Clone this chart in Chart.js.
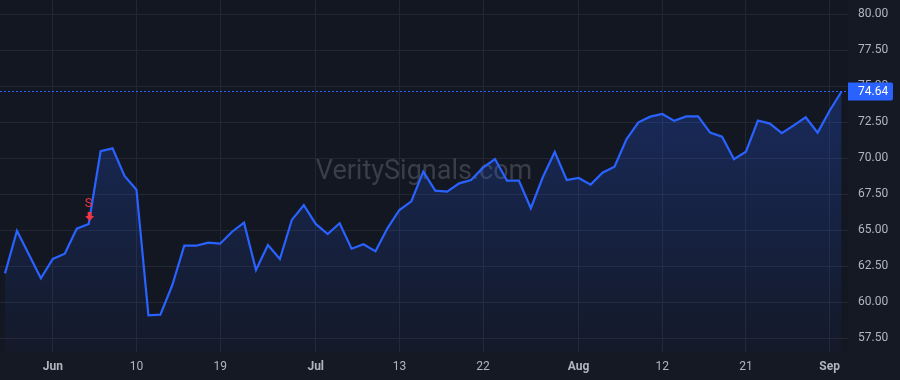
<!DOCTYPE html>
<html>
<head>
<meta charset="utf-8">
<script src="https://cdn.jsdelivr.net/npm/chart.js@4.4.1/dist/chart.umd.min.js"></script>
<style>
  html, body { margin: 0; padding: 0; background: #151924; }
  #chart { display: block; }
</style>
</head>
<body>
<canvas id="chart" width="900" height="380"></canvas>
<script>
// Daily closes
const dates = [
    "2024-05-27", "2024-05-28", "2024-05-29", "2024-05-31", "2024-06-03", "2024-06-04",
    "2024-06-05", "2024-06-06", "2024-06-07", "2024-06-08", "2024-06-09", "2024-06-10",
    "2024-06-11", "2024-06-12", "2024-06-13", "2024-06-14", "2024-06-17", "2024-06-18",
    "2024-06-19", "2024-06-20", "2024-06-21", "2024-06-22", "2024-06-24", "2024-06-25",
    "2024-06-26", "2024-06-27", "2024-07-01", "2024-07-02", "2024-07-03", "2024-07-05",
    "2024-07-08", "2024-07-09", "2024-07-11", "2024-07-13", "2024-07-15", "2024-07-16",
    "2024-07-17", "2024-07-18", "2024-07-19", "2024-07-20", "2024-07-22", "2024-07-23",
    "2024-07-24", "2024-07-25", "2024-07-26", "2024-07-29", "2024-07-30", "2024-07-31",
    "2024-08-01", "2024-08-02", "2024-08-05", "2024-08-06", "2024-08-07", "2024-08-08",
    "2024-08-09", "2024-08-12", "2024-08-13", "2024-08-14", "2024-08-15", "2024-08-16",
    "2024-08-19", "2024-08-20", "2024-08-21", "2024-08-22", "2024-08-23", "2024-08-26",
    "2024-08-27", "2024-08-28", "2024-08-29", "2024-09-02", "2024-09-03",
];
const closes = [
    62.01, 64.97, 63.32, 61.67, 63.01, 63.37, 65.11, 65.44, 70.49, 70.69,
    68.77, 67.82, 59.10, 59.14, 61.20, 63.93, 63.93, 64.14, 64.07, 64.90,
    65.53, 62.24, 63.98, 63.01, 65.72, 66.74, 65.44, 64.74, 65.49, 63.72,
    64.03, 63.54, 65.14, 66.41, 67.01, 69.07, 67.75, 67.68, 68.26, 68.49,
    69.35, 69.95, 68.45, 68.45, 66.53, 68.68, 70.44, 68.49, 68.63, 68.17,
    69.00, 69.42, 71.32, 72.50, 72.89, 73.08, 72.60, 72.91, 72.91, 71.78,
    71.50, 69.93, 70.46, 72.62, 72.41, 71.74, 72.29, 72.85, 71.78, 73.30,
    74.64,
];
// Dates that get a label on the time axis
const tickDates = [
    "2024-06-03", "2024-06-10", "2024-06-19", "2024-07-01", "2024-07-13",
    "2024-07-22", "2024-08-01", "2024-08-12", "2024-08-21", "2024-09-02",
];
const priceTicks = [57.5, 60, 62.5, 65, 67.5, 70, 72.5, 75, 77.5, 80];
// Trade signals: S = sell
const signals = [{ date: "2024-06-06", type: "S" }];

const MONTHS = ["Jan", "Feb", "Mar", "Apr", "May", "Jun", "Jul", "Aug", "Sep", "Oct", "Nov", "Dec"];
const BLUE = "#2962ff";
const RED = "#f23645";
const TEXT = "#b2b5be";
const GRID = "#232733";
const FONT = "Roboto, 'Liberation Sans', sans-serif";

const isMonthStart = (i) => i > 0 && dates[i].slice(5, 7) !== dates[i - 1].slice(5, 7);
const tickText = (i) => {
    const d = dates[i];
    if (isMonthStart(i)) return MONTHS[parseInt(d.slice(5, 7), 10) - 1];
    return String(parseInt(d.slice(8, 10), 10));
};

const points = closes.map((v, i) => ({ x: i, y: v }));
const lastValue = closes[closes.length - 1];

const bgPlugin = {
    id: "bg",
    beforeDraw(c) {
        const { ctx, chartArea: a } = c;
        ctx.save();
        ctx.fillStyle = "#151924";
        ctx.fillRect(0, 0, c.width, c.height);
        ctx.fillStyle = "#131722";
        ctx.fillRect(a.left, a.top, a.right - a.left, a.bottom - a.top);
        ctx.restore();
    },
    beforeDatasetsDraw(c) {
        // watermark
        const { ctx, chartArea: a } = c;
        ctx.save();
        ctx.font = "27px " + FONT;
        ctx.fillStyle = "#3a3e49";
        ctx.textAlign = "center";
        ctx.textBaseline = "middle";
        ctx.fillText("VeritySignals.com", (a.left + a.right) / 2, 172);
        ctx.restore();
    },
};

const overlayPlugin = {
    id: "overlay",
    afterDatasetsDraw(c) {
        const { ctx, chartArea: a } = c;
        const xs = c.scales.x;
        const ys = c.scales.y;
        ctx.save();
        // last price line
        const yl = Math.round(ys.getPixelForValue(lastValue)) + 0.5;
        ctx.strokeStyle = BLUE;
        ctx.lineWidth = 1;
        ctx.setLineDash([2, 2]);
        ctx.beginPath();
        ctx.moveTo(a.left, yl);
        ctx.lineTo(a.right, yl);
        ctx.stroke();
        ctx.setLineDash([]);
        // signal markers
        signals.forEach((s) => {
            const i = dates.indexOf(s.date);
            const px = xs.getPixelForValue(i) + 1;
            const py = ys.getPixelForValue(closes[i]);
            ctx.fillStyle = RED;
            ctx.fillRect(px - 2, py - 12, 4, 5);
            ctx.beginPath();
            ctx.moveTo(px - 4.5, py - 8);
            ctx.lineTo(px + 4.5, py - 8);
            ctx.lineTo(px, py - 3);
            ctx.closePath();
            ctx.fill();
            ctx.font = "13px " + FONT;
            ctx.textAlign = "center";
            ctx.textBaseline = "middle";
            ctx.fillText(s.type, px - 1, py - 20);
        });
        ctx.restore();
    },
    afterDraw(c) {
        const { ctx, chartArea: a } = c;
        const yl = c.scales.y.getPixelForValue(lastValue);
        ctx.save();
        ctx.fillStyle = BLUE;
        ctx.beginPath();
        ctx.roundRect(a.right, yl - 9, 45, 18, [0, 2, 2, 0]);
        ctx.fill();
        ctx.fillStyle = "#ffffff";
        ctx.font = "12px " + FONT;
        ctx.textAlign = "left";
        ctx.textBaseline = "middle";
        ctx.fillText(lastValue.toFixed(2), a.right + 10, yl + 0.5);
        ctx.restore();
    },
};

const ctx = document.getElementById("chart");
// eslint-disable-next-line no-unused-vars
const chart = new Chart(ctx, {
    type: "line",
    data: {
        datasets: [
            {
                data: points,
                borderColor: BLUE,
                borderWidth: 2.2,
                pointRadius: 0,
                tension: 0,
                fill: "start",
                backgroundColor: (context) => {
                    const { chart: ch } = context;
                    const { ctx: g, chartArea } = ch;
                    if (!chartArea) return "rgba(41,98,255,0.15)";
                    const top = ch.scales.y.getPixelForValue(Math.max(...closes));
                    const grad = g.createLinearGradient(0, top, 0, chartArea.bottom);
                    grad.addColorStop(0, "rgba(41,98,255,0.26)");
                    grad.addColorStop(1, "rgba(41,98,255,0.03)");
                    return grad;
                },
            },
        ],
    },
    options: {
        responsive: false,
        animation: false,
        layout: { padding: 0 },
        plugins: {
            legend: { display: false },
            tooltip: { enabled: false },
        },
        scales: {
            x: {
                type: "linear",
                min: -0.42,
                max: 70.54,
                afterBuildTicks(axis) {
                    axis.ticks = tickDates.map((d) => ({ value: dates.indexOf(d) }));
                },
                afterFit(axis) {
                    axis.height = 28;
                    axis.paddingLeft = 0;
                    axis.paddingRight = 0;
                },
                grid: { color: GRID, drawTicks: false },
                border: { display: false },
                ticks: {
                    autoSkip: false,
                    maxRotation: 0,
                    padding: 8,
                    color: TEXT,
                    font: (c) => ({
                        family: FONT,
                        size: 12,
                        weight: c.tick && isMonthStart(c.tick.value) ? "bold" : "normal",
                    }),
                    callback: (v) => tickText(v),
                },
            },
            y: {
                position: "right",
                min: 56.55,
                max: 80.99,
                afterBuildTicks(axis) {
                    axis.ticks = priceTicks.map((v) => ({ value: v }));
                },
                afterFit(axis) {
                    axis.width = 52;
                    axis.paddingTop = 0;
                    axis.paddingBottom = 0;
                },
                grid: { color: GRID, drawTicks: false },
                border: { display: false },
                ticks: {
                    padding: 10,
                    color: TEXT,
                    font: { family: FONT, size: 12 },
                    callback: (v) => v.toFixed(2),
                },
            },
        },
    },
    plugins: [bgPlugin, overlayPlugin],
});
</script>
</body>
</html>
